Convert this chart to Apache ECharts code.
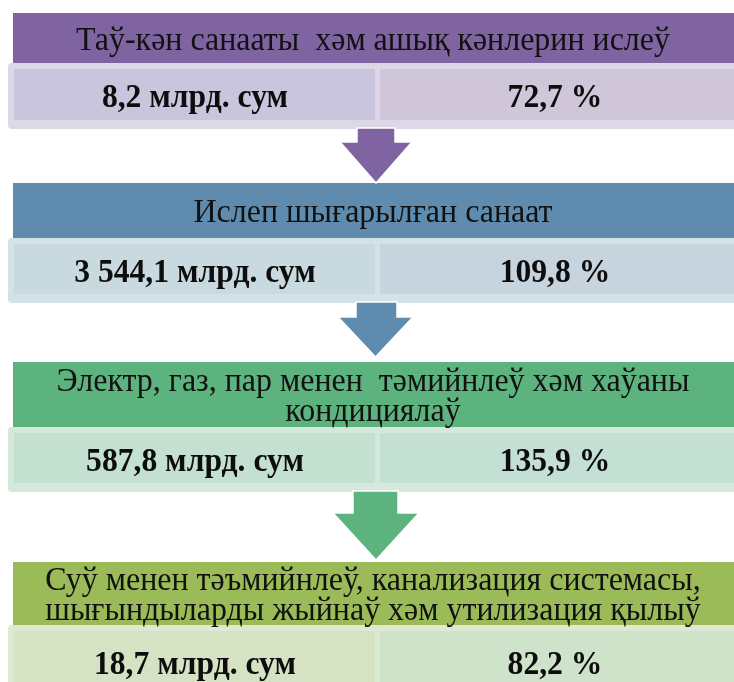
<!DOCTYPE html>
<html style="height: 100%">
<head>
    <meta charset="utf-8">
</head>
<body style="height: 100%; margin: 0; background: #fff">
<div id="container" style="width: 734px; height: 682px"></div>
<script src="https://cdn.jsdelivr.net/npm/echarts@6/dist/echarts.min.js"></script>
<script type="text/javascript">
    // data
    const titles = [
        'Таў-кән санааты  хәм ашық кәнлерин ислеў',
        'Ислеп шығарылған санаат',
        'Электр, газ, пар менен  тәмийнлеў хәм хаўаны\nкондициялаў',
        'Суў менен тәъмийнлеў, канализация системасы,\nшығындыларды жыйнаў хәм утилизация қылыў'
    ];
    const amounts = ['8,2 млрд. сум', '3 544,1 млрд. сум', '587,8 млрд. сум', '18,7 млрд. сум'];
    const percents = ['72,7 %', '109,8 %', '135,9 %', '82,2 %'];

    // styles
    const headColors = ['#8064a2', '#5f8cae', '#5db37e', '#9bbb59'];
    const bandColors = ['#dcd8e6', '#d3e2e6', '#d4e9dc', '#dde9d0'];
    const leftColors = ['#c9c5dc', '#c8dae0', '#c4e0d0', '#d5e2c4'];
    const rightColors = ['#d0c6da', '#c7d4de', '#c4e0d4', '#cfe2ca'];

    // layout (px)
    const headTop = [13, 183, 362, 562];
    const headBottom = [63, 238, 427, 625];
    const boxBottom = [129, 303, 492, 700];
    const arrowShaft = [[357, 395, 142], [356, 397, 317], [353, 398, 513]];
    const arrowHead = [[340, 412, 183], [338, 413, 357], [333, 419, 560]];
    const W = 734, split = 376;

    var dom = document.getElementById("container");
    var myChart = echarts.init(dom);
    const els = [];

    for (let i = 0; i < titles.length; i++) {
        const t = headTop[i], hb = headBottom[i], bb = boxBottom[i];
        // value box
        els.push({type: 'rect', shape: {x: 8, y: hb, width: W, height: bb - hb, r: 4},
            style: {fill: bandColors[i]}});
        els.push({type: 'rect', shape: {x: 14, y: hb + 6, width: split - 1 - 14, height: bb - hb - 15},
            style: {fill: leftColors[i]}});
        els.push({type: 'rect', shape: {x: split + 4, y: hb + 6, width: W - split, height: bb - hb - 15},
            style: {fill: rightColors[i]}});
        const cy = hb + 6 + (bb - hb - 15) / 2 + 4;
        els.push({type: 'text', x: (14 + split) / 2, y: cy, scaleX: 0.93,
            style: {text: amounts[i], font: 'bold 34px "Liberation Serif"', fill: '#0d0d0d',
                textAlign: 'center', textVerticalAlign: 'middle'}});
        els.push({type: 'text', x: (split + W) / 2, y: cy, scaleX: 0.93,
            style: {text: percents[i], font: 'bold 34px "Liberation Serif"', fill: '#0d0d0d',
                textAlign: 'center', textVerticalAlign: 'middle'}});
        // header
        els.push({type: 'rect', shape: {x: 13, y: t, width: W, height: hb - t},
            style: {fill: headColors[i]}});
        els.push({type: 'text', x: W / 2 + 6, y: (t + hb) / 2 + 3, scaleX: 0.94,
            style: {text: titles[i], font: '34px "Liberation Serif"', fill: '#111',
                lineHeight: 30, textAlign: 'center', textVerticalAlign: 'middle'}});
        // arrow
        if (i < arrowShaft.length) {
            const s = arrowShaft[i], h = arrowHead[i];
            els.push({type: 'polygon', z: 10, shape: {points: [
                [s[0], bb - 1], [s[1], bb - 1], [s[1], s[2]], [h[1], s[2]],
                [(h[0] + h[1]) / 2, h[2]], [h[0], s[2]], [s[0], s[2]]
            ]}, style: {fill: headColors[i], stroke: '#fff', lineWidth: 1.5}});
        }
    }

    myChart.setOption({animation: false, graphic: {elements: els}});
</script>
</body>
</html>
